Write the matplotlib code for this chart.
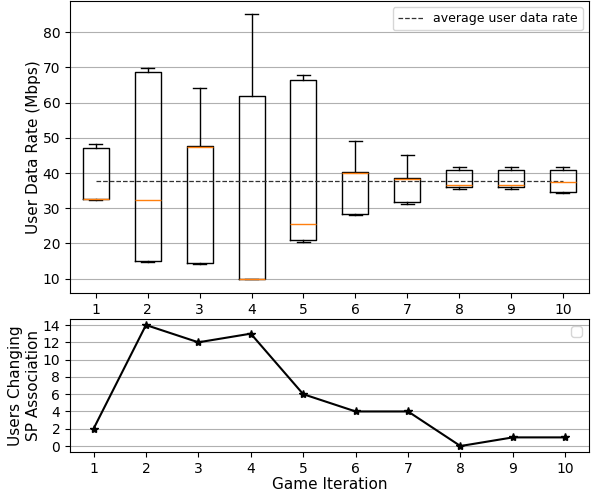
import matplotlib
matplotlib.use("Agg")
import matplotlib.pyplot as plt
import numpy as np

# Datenwerte
iterations = [1, 2, 3, 4, 5, 6, 7, 8, 9, 10]
whislo = [32.3, 14.8, 14.2, 9.8, 20.5, 28.1, 31.3, 35.5, 35.5, 34.3]
q1 = [32.5, 15.0, 14.3, 10.0, 21.1, 28.3, 31.7, 36.0, 36.0, 34.7]
med = [32.5, 32.4, 47.5, 10.0, 25.6, 40.1, 38.2, 36.6, 36.6, 37.4]
q3 = [47.0, 68.6, 47.8, 61.8, 66.4, 40.2, 38.7, 40.8, 40.8, 40.8]
whishi = [48.3, 69.8, 64.2, 85.2, 67.9, 49.2, 45.1, 41.8, 41.8, 41.8]
avg_rate = 37.6

users_changing = [2, 14, 12, 13, 6, 4, 4, 0, 1, 1]

stats = []
for i in range(len(iterations)):
    stats.append(dict(whislo=whislo[i], q1=q1[i], med=med[i], q3=q3[i],
                      whishi=whishi[i], fliers=[], label=str(iterations[i])))

fig = plt.figure(figsize=(5.93, 4.93), dpi=100)
ax1 = fig.add_axes([0.118, 0.406, 0.875, 0.592])
ax2 = fig.add_axes([0.118, 0.083, 0.875, 0.270])

ax1.bxp(stats, positions=iterations, showfliers=False)
ax1.plot([iterations[0], iterations[-1]], [avg_rate, avg_rate], "--", color="#333333",
         lw=0.9, label="average user data rate")
ax1.set_xlim(0.5, 10.5)
ax1.set_ylim(5.94, 88.9)
ax1.set_ylabel("User Data Rate (Mbps)", fontsize=11, labelpad=1.5)
ax1.yaxis.grid(True)
ax1.legend(loc="upper right", fontsize=9)

ax2.plot(iterations, users_changing, "k-*", lw=1.5)
ax2.set_xticks(iterations)
ax2.set_yticks(np.arange(0, 15, 2))
ax2.set_ylabel("Users Changing\nSP Association", fontsize=11, labelpad=1.5)
ax2.set_xlabel("Game Iteration", fontsize=11, labelpad=1)
ax2.yaxis.grid(True)
ax2.legend(loc="upper right")

fig.savefig("out.png", dpi=100)
